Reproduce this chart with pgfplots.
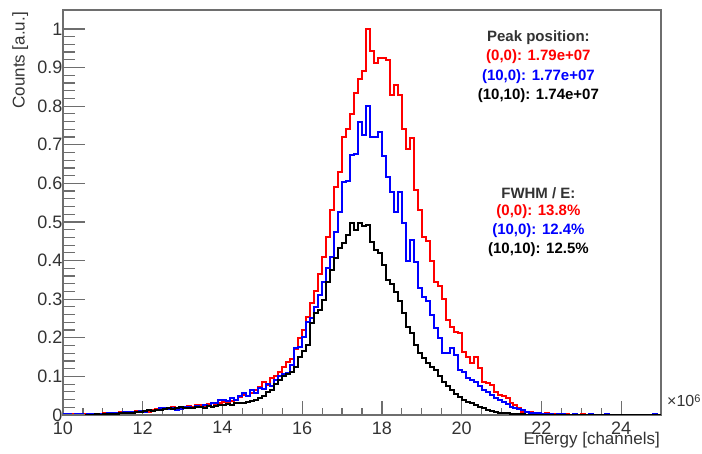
\documentclass[border=0pt]{standalone}
\usepackage{fontspec}
\setmainfont{Liberation Sans}
\usepackage{pgfplots}
\pgfplotsset{compat=1.18}
\usepackage{pgfplotstable}
\definecolor{axgray}{HTML}{6E6E6E}
\definecolor{txtgray}{HTML}{333333}
\definecolor{hred}{HTML}{FF0000}
\definecolor{hblue}{HTML}{0000FF}

\pgfplotstableread{
x r b k
10.0 0.000 0.002 0.000
10.1 0.001 0.002 0.000
10.2 0.002 0.001 0.000
10.3 0.002 0.002 0.001
10.4 0.001 0.002 0.000
10.5 0.003 0.001 0.001
10.6 0.002 0.002 0.001
10.7 0.003 0.002 0.001
10.8 0.002 0.003 0.002
10.9 0.003 0.002 0.001
11.0 0.004 0.003 0.002
11.1 0.003 0.005 0.002
11.2 0.005 0.004 0.003
11.3 0.004 0.006 0.003
11.4 0.007 0.005 0.004
11.5 0.006 0.008 0.005
11.6 0.009 0.007 0.005
11.7 0.007 0.009 0.006
11.8 0.010 0.008 0.007
11.9 0.008 0.011 0.009
12.0 0.011 0.009 0.010
12.1 0.009 0.013 0.012
12.2 0.013 0.011 0.010
12.3 0.016 0.014 0.012
12.4 0.014 0.018 0.013
12.5 0.018 0.017 0.015
12.6 0.017 0.015 0.018
12.7 0.020 0.017 0.016
12.8 0.016 0.013 0.019
12.9 0.020 0.015 0.020
13.0 0.018 0.022 0.018
13.1 0.024 0.021 0.017
13.2 0.022 0.018 0.019
13.3 0.025 0.023 0.020
13.4 0.027 0.021 0.022
13.5 0.024 0.026 0.019
13.6 0.028 0.024 0.023
13.7 0.030 0.032 0.021
13.8 0.027 0.030 0.024
13.9 0.031 0.040 0.026
14.0 0.034 0.038 0.025
14.1 0.030 0.035 0.028
14.2 0.036 0.045 0.027
14.3 0.040 0.040 0.030
14.4 0.046 0.050 0.032
14.5 0.052 0.057 0.030
14.6 0.048 0.050 0.034
14.7 0.058 0.065 0.035
14.8 0.065 0.058 0.040
14.9 0.072 0.070 0.045
15.0 0.086 0.068 0.050
15.1 0.078 0.080 0.060
15.2 0.095 0.075 0.065
15.3 0.102 0.090 0.080
15.4 0.112 0.100 0.090
15.5 0.125 0.105 0.100
15.6 0.138 0.110 0.105
15.7 0.145 0.130 0.112
15.8 0.170 0.173 0.125
15.9 0.200 0.175 0.151
16.0 0.220 0.203 0.165
16.1 0.255 0.242 0.180
16.2 0.290 0.250 0.238
16.3 0.320 0.280 0.264
16.4 0.365 0.310 0.272
16.5 0.410 0.345 0.298
16.6 0.460 0.380 0.345
16.7 0.530 0.410 0.376
16.8 0.590 0.475 0.406
16.9 0.630 0.527 0.432
17.0 0.720 0.604 0.445
17.1 0.740 0.605 0.466
17.2 0.780 0.674 0.497
17.3 0.835 0.676 0.480
17.4 0.870 0.760 0.497
17.5 0.890 0.725 0.490
17.6 1.000 0.800 0.493
17.7 0.943 0.720 0.449
17.8 0.912 0.720 0.427
17.9 0.925 0.734 0.420
18.0 0.925 0.670 0.389
18.1 0.920 0.617 0.350
18.2 0.830 0.578 0.340
18.3 0.855 0.527 0.319
18.4 0.830 0.578 0.294
18.5 0.740 0.497 0.264
18.6 0.690 0.400 0.229
18.7 0.717 0.453 0.212
18.8 0.583 0.397 0.181
18.9 0.531 0.330 0.160
19.0 0.460 0.306 0.147
19.1 0.450 0.294 0.134
19.2 0.400 0.260 0.125
19.3 0.345 0.225 0.117
19.4 0.335 0.200 0.100
19.5 0.300 0.160 0.085
19.6 0.245 0.160 0.075
19.7 0.228 0.173 0.065
19.8 0.215 0.155 0.055
19.9 0.212 0.117 0.047
20.0 0.163 0.112 0.040
20.1 0.150 0.095 0.034
20.2 0.134 0.090 0.030
20.3 0.150 0.085 0.025
20.4 0.121 0.075 0.020
20.5 0.085 0.065 0.018
20.6 0.083 0.060 0.012
20.7 0.078 0.052 0.010
20.8 0.060 0.045 0.008
20.9 0.052 0.040 0.006
21.0 0.050 0.034 0.005
21.1 0.045 0.028 0.004
21.2 0.030 0.022 0.003
21.3 0.025 0.018 0.003
21.4 0.018 0.015 0.002
21.5 0.008 0.012 0.002
21.6 0.008 0.008 0.001
21.7 0.008 0.006 0.001
21.8 0.005 0.005 0.001
21.9 0.004 0.004 0.000
22.0 0.003 0.003 0.000
22.1 0.004 0.002 0.000
22.2 0.002 0.003 0.000
22.3 0.003 0.001 0.000
22.4 0.002 0.002 0.000
22.5 0.001 0.002 0.000
22.6 0.002 0.001 0.000
22.7 0.001 0.001 0.000
22.8 0.000 0.002 0.000
22.9 0.001 0.001 0.000
23.0 0.002 0.000 0.000
23.1 0.000 0.001 0.000
23.2 0.001 0.002 0.000
23.3 0.000 0.001 0.000
23.4 0.001 0.000 0.000
23.5 0.000 0.001 0.000
23.6 0.001 0.002 0.000
23.7 0.000 0.001 0.000
23.8 0.001 0.000 0.000
23.9 0.000 0.001 0.000
24.0 0.000 0.001 0.000
24.1 0.001 0.000 0.000
24.2 0.000 0.001 0.000
24.3 0.000 0.000 0.000
24.4 0.001 0.001 0.000
24.5 0.000 0.001 0.000
24.6 0.000 0.000 0.000
24.7 0.000 0.001 0.000
24.8 0.000 0.002 0.000
24.9 0.000 0.001 0.000
25.0 0.000 0.001 0.000
}\histdata

\begin{document}
\begin{tikzpicture}[x=1pt,y=1pt]
\begin{axis}[
  at={(0,0)}, anchor=south west,
  scale only axis, width=598pt, height=405pt,
  xmin=10, xmax=25, ymin=0, ymax=1.049,
  axis line style={axgray, line width=1.5pt},
  tick align=inside, xtick pos=bottom, ytick=\empty,
  xtick={10,12,14,16,18,20,22,24}, minor x tick num=3,
  major tick length=14pt, minor tick length=7pt,
  tick style={axgray, line width=1.2pt},
  xticklabel style={font=\fontsize{18}{20}\selectfont, text=txtgray, yshift=-3pt},
  /pgf/number format/assume math mode=true,
]
\addplot[const plot mark left, hred, line width=2pt, line join=miter] table[x=x,y=r]{\histdata};
\addplot[const plot mark left, hblue, line width=2pt, line join=miter] table[x=x,y=b]{\histdata};
\addplot[const plot mark left, black, line width=2pt, line join=miter] table[x=x,y=k]{\histdata};

\begin{scope}[font=\fontsize{15}{18}\selectfont\bfseries, inner sep=0pt]
\node[text=txtgray] at (axis cs:21.925,0.977) {Peak position:};
\node[text=hred]    at (axis cs:21.925,0.927) {(0,0): 1.79e+07};
\node[text=hblue]   at (axis cs:21.925,0.877) {(10,0): 1.77e+07};
\node[text=black]   at (axis cs:21.925,0.827) {(10,10): 1.74e+07};
\node[text=txtgray] at (axis cs:21.925,0.575) {FWHM / E:};
\node[text=hred]    at (axis cs:21.925,0.526) {(0,0): 13.8\%};
\node[text=hblue]   at (axis cs:21.925,0.477) {(10,0): 12.4\%};
\node[text=black]   at (axis cs:21.925,0.428) {(10,10): 12.5\%};
\end{scope}
\end{axis}

\begin{axis}[
  at={(0,0)}, anchor=south west,
  scale only axis, width=598pt, height=405pt,
  xmin=10, xmax=25, ymin=0, ymax=1.049,
  axis line style={draw=none},
  tick align=inside, ytick pos=left, xtick=\empty,
  ytick={0,0.1,0.2,0.3,0.4,0.5,0.6,0.7,0.8,0.9,1},
  minor y tick num=4,
  major tick length=22pt, minor tick length=12pt,
  tick style={axgray, line width=1.2pt},
  yticklabel style={font=\fontsize{18}{20}\selectfont, text=txtgray, xshift=3pt},
  /pgf/number format/assume math mode=true,
  /pgf/number format/fixed,
]
\end{axis}

\node[rotate=90, anchor=north east, inner sep=0pt, font=\fontsize{17}{20}\selectfont, text=txtgray] at (-51,403) {Counts [a.u.]};
\node[anchor=north east, inner sep=0pt, font=\fontsize{17}{20}\selectfont, text=txtgray] at (597,-17) {Energy [channels]};
\node[anchor=base west, inner sep=0pt, font=\fontsize{16}{18}\selectfont, text=txtgray] at (604,8) {×10\raisebox{0.55ex}{\fontsize{11}{12}\selectfont 6}};

\pgfresetboundingbox
\useasboundingbox (-63,-39) rectangle (639,415);
\end{tikzpicture}
\end{document}
